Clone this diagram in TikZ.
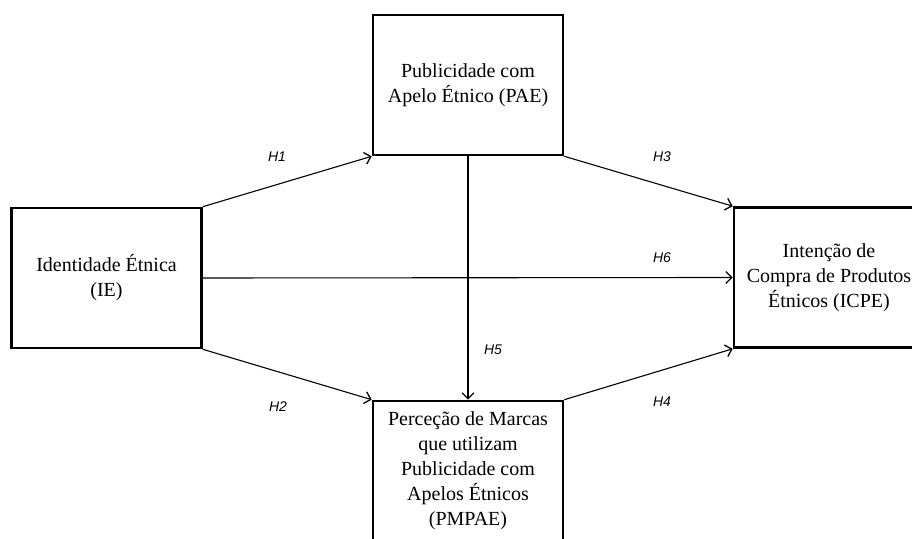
\documentclass[tikz,border=0pt]{standalone}
\usepackage{fontspec}
\setmainfont{Liberation Serif}
\newfontfamily\hfont{Liberation Sans}
\usetikzlibrary{arrows.meta}

\tikzset{
 construct/.style={draw,line width=2.6pt,minimum width=190,minimum height=140,
  align=center,inner sep=0pt,font=\fontsize{20}{25}\selectfont},
 path/.style={line width=1.1pt,-{Straight Barb[length=6pt,width=12pt,line width=1.3pt]}},
 hyp/.style={font=\hfont\itshape\fontsize{14}{16}\selectfont}
}

\begin{document}
\begin{tikzpicture}[x=1pt,y=1pt]
 \useasboundingbox (0,0) rectangle (912,538);
 \clip (0,0) rectangle (912,538);
 % constructs
 \node[construct] (ie) at (106.5,260) {Identidade Étnica\\(IE)};
 \node[construct] (pae) at (468,453) {Publicidade com\\Apelo Étnico (PAE)};
 \node[construct] (pmpae) at (468,67) {Perceção de Marcas\\que utilizam\\Publicidade com\\Apelos Étnicos\\(PMPAE)};
 \node[construct] (icpe) at (829,260.5) {Intenção de\\Compra de Produtos\\Étnicos (ICPE)};
 % hypotheses
 \draw[path] (ie.north east) -- (pae.south west);
 \draw[path] (ie.south east) -- (pmpae.north west);
 \draw[path] (pae.south east) -- (icpe.north west);
 \draw[path] (pmpae.north east) -- (icpe.south west);
 \draw[path] (pae.south) -- (pmpae.north);
 \draw[path] (ie.east) -- (icpe.west);
 \foreach \x/\y/\id in {277/381/1,278/131/2,662/381/3,662/136/4,493/188/5,662/280/6}
  \node[hyp] (h\id) at (\x,\y) {H\id};
\end{tikzpicture}
\end{document}
